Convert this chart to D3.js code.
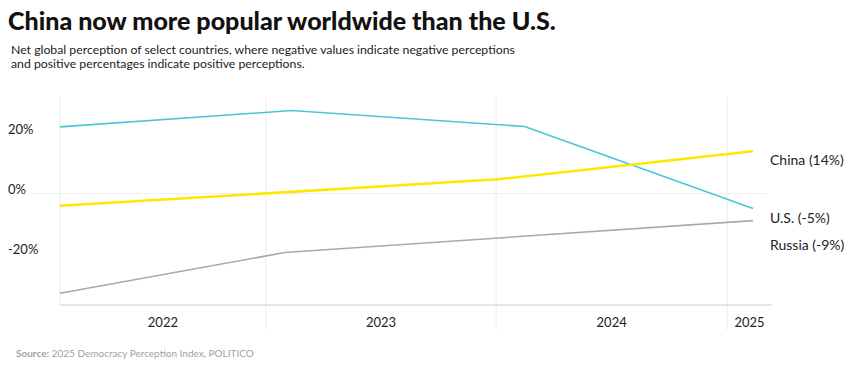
<!DOCTYPE html>
<html>
<head>
<meta charset="utf-8">
<script src="https://cdn.jsdelivr.net/npm/d3@7"></script>
<style>
  html, body { margin: 0; padding: 0; background: #fff; }
  svg { display: block; }
  text { font-family: Lato, "Noto Sans", sans-serif; }
</style>
</head>
<body>
<svg id="chart" width="848" height="367"></svg>
<script>
// ---- data ----
const seriesNames = ["U.S.", "China", "Russia"];
const usDates = ["2022-02-09", "2023-02-11", "2024-02-15", "2025-02-11"];
const usValues = [22.1, 27.5, 22.2, -5];
const chinaDates = ["2022-02-09", "2024-01-04", "2025-02-11"];
const chinaValues = [-4.1, 4.7, 14];
const russiaDates = ["2022-02-09", "2023-01-31", "2025-02-11"];
const russiaValues = [-33.1, -19.6, -9];
const endLabels = ["U.S. (-5%)", "China (14%)", "Russia (-9%)"];
const yTickValues = [20, 0, -20];
const yTickLabels = ["20%", "0%", "-20%"];
const yearLabels = ["2022", "2023", "2024", "2025"];
const yearBoundaries = ["2023-01-01", "2024-01-01", "2025-01-01"];
const xDomain = ["2022-02-09", "2025-03-13"];
const yDomain = [-37, 32];

const titleText = "China now more popular worldwide than the U.S.";
const subtitleLines = [
  "Net global perception of select countries, where negative values indicate negative perceptions",
  "and positive percentages indicate positive perceptions."
];
const sourceBold = "Source:";
const sourceText = " 2025 Democracy Perception Index, POLITICO";

// ---- setup ----
const parse = d3.utcParse("%Y-%m-%d");
const svg = d3.select("#chart");
const mLeft = 60, mRight = 772, mTop = 97, mBottom = 305;

const x = d3.scaleUtc().domain(xDomain.map(parse)).range([mLeft, mRight]);
const y = d3.scaleLinear().domain(yDomain).range([mBottom, mTop]);

const colors = { "U.S.": "#4cc5da", "China": "#fde800", "Russia": "#a9a9a9" };
const widths = { "U.S.": 1.6, "China": 2.6, "Russia": 1.6 };

const series = [
  { name: "U.S.", label: endLabels[0], pts: usDates.map((d, i) => ({ d: parse(d), v: usValues[i] })) },
  { name: "China", label: endLabels[1], pts: chinaDates.map((d, i) => ({ d: parse(d), v: chinaValues[i] })) },
  { name: "Russia", label: endLabels[2], pts: russiaDates.map((d, i) => ({ d: parse(d), v: russiaValues[i] })) }
];

// fit a text element's font-size so it spans the target width
function fitWidth(sel, target, maxSize) {
  const w = sel.node().getComputedTextLength();
  const fs = +sel.attr("font-size");
  sel.attr("font-size", Math.min(maxSize, fs * target / w));
}

// ---- title ----
const title = svg.append("text").attr("x", 8).attr("y", 29.5)
  .attr("font-size", 26).attr("font-weight", 900).attr("fill", "#111")
  .text(titleText);
fitWidth(title, 548, 28);

const subs = svg.selectAll("text.sub").data(subtitleLines).join("text")
  .attr("class", "sub")
  .attr("x", 11).attr("y", (d, i) => 54 + i * 13.5)
  .attr("font-size", 12.6).attr("fill", "#222")
  .text(d => d);
{
  const first = subs.filter((d, i) => i === 0);
  const w = first.node().getComputedTextLength();
  subs.attr("font-size", 12.6 * 504 / w);
}

// ---- grid ----
const g = svg.append("g");
g.selectAll("line.vb").data(yearBoundaries.map(parse)).join("line")
  .attr("class", "vb")
  .attr("x1", d => x(d)).attr("x2", d => x(d))
  .attr("y1", mTop).attr("y2", 330)
  .attr("stroke", "#ececec").attr("stroke-width", 1);
g.append("line").attr("x1", mLeft).attr("x2", mLeft).attr("y1", mTop).attr("y2", mBottom)
  .attr("stroke", "#ececec").attr("stroke-width", 1);
g.append("line").attr("x1", 31).attr("x2", 767).attr("y1", y(0)).attr("y2", y(0))
  .attr("stroke", "#eeeeee").attr("stroke-width", 1);
g.append("line").attr("x1", mLeft).attr("x2", mRight).attr("y1", mBottom).attr("y2", mBottom)
  .attr("stroke", "#dddddd").attr("stroke-width", 1.5);

// y labels
svg.selectAll("text.ytick").data(yTickValues).join("text")
  .attr("class", "ytick")
  .attr("x", 8).attr("y", d => y(d) + 0.5)
  .attr("font-size", 13).attr("fill", "#222")
  .text((d, i) => yTickLabels[i]);

// x labels: centered within year band, clamped to range
const yearStarts = yearLabels.map(yl => parse(yl + "-01-01"));
svg.selectAll("text.xtick").data(yearLabels).join("text")
  .attr("class", "xtick")
  .attr("y", 327)
  .attr("font-size", 13).attr("fill", "#222")
  .attr("text-anchor", "middle")
  .text(d => d)
  .each(function(d, i) {
    const s = Math.max(x.range()[0], x(yearStarts[i]));
    const eDate = parse((+d + 1) + "-01-01");
    const e = Math.min(x.range()[1], x(eDate));
    let cx = (s + e) / 2;
    const w = this.getComputedTextLength();
    cx = Math.min(cx, x.range()[1] - w / 2 + 2);
    d3.select(this).attr("x", cx);
  });

// ---- lines ----
const line = d3.line().x(p => x(p.d)).y(p => y(p.v));
svg.selectAll("path.series").data(series).join("path")
  .attr("class", "series")
  .attr("d", s => line(s.pts))
  .attr("fill", "none")
  .attr("stroke", s => colors[s.name])
  .attr("stroke-width", s => widths[s.name])
  .attr("stroke-linejoin", "round");

// ---- end labels with dodge ----
const labs = series.map(s => ({ label: s.label, yy: y(s.pts[s.pts.length - 1].v) + 9 }))
  .sort((a, b) => a.yy - b.yy);
for (let i = 1; i < labs.length; i++) {
  if (labs[i].yy - labs[i - 1].yy < 27) labs[i].yy = labs[i - 1].yy + 27;
}
svg.selectAll("text.endlab").data(labs).join("text")
  .attr("class", "endlab")
  .attr("x", 770).attr("y", d => d.yy + 5)
  .attr("font-size", 14).attr("fill", "#222")
  .text(d => d.label);

// ---- source ----
const src = svg.append("text").attr("x", 16).attr("y", 356.5)
  .attr("font-size", 10).attr("fill", "#a0a0a0");
src.append("tspan").attr("font-weight", 700).text(sourceBold);
src.append("tspan").text(sourceText);
</script>
</body>
</html>
